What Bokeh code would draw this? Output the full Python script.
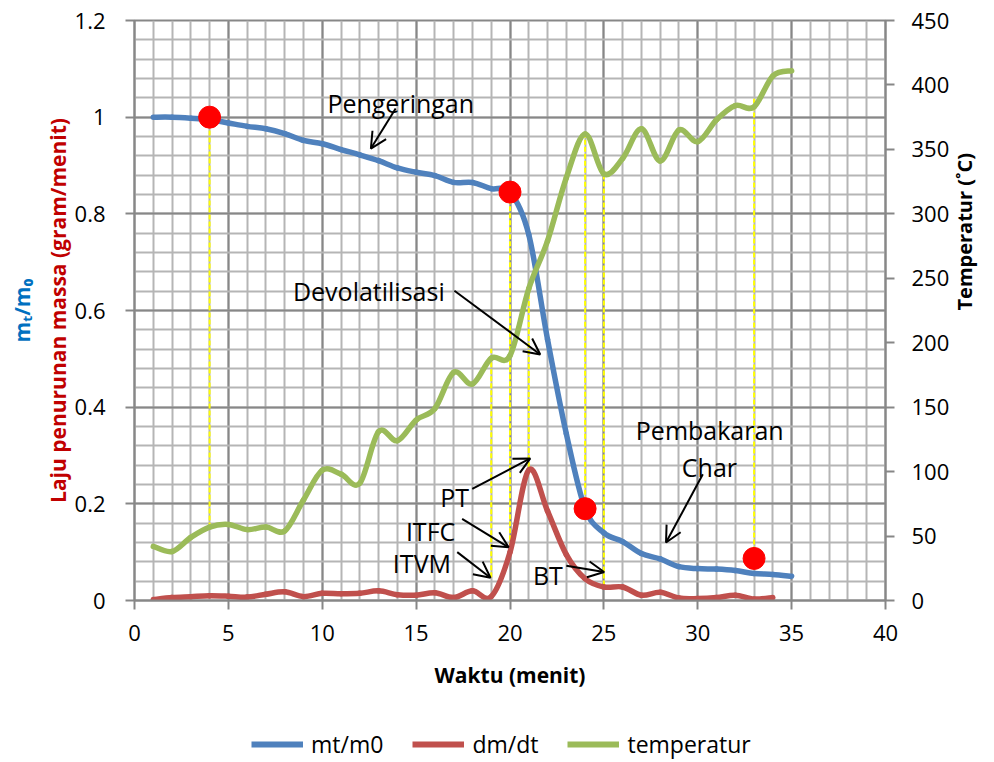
import math
from bokeh.plotting import figure
from bokeh.layouts import column
from bokeh.models import (Range1d, LinearAxis, SingleIntervalTicker, FixedTicker,
                          CustomJSTickFormatter, Arrow, OpenHead, Label, Legend,
                          LegendItem, Title)
from bokeh.embed import file_html
from bokeh.resources import INLINE

# ---------------- data ----------------
waktu = list(range(1, 36))
mt_m0 = [1.0, 1.0, 0.998, 0.995, 0.988, 0.981, 0.976, 0.966, 0.952, 0.945,
         0.933, 0.922, 0.910, 0.895, 0.886, 0.879, 0.865, 0.865, 0.852, 0.845,
         0.757, 0.540, 0.345, 0.190, 0.140, 0.122, 0.097, 0.086, 0.070, 0.066,
         0.065, 0.062, 0.056, 0.054, 0.050]

waktu_dm = list(range(1, 35))
dm_dt = [0.002, 0.006, 0.008, 0.010, 0.009, 0.007, 0.013, 0.018, 0.008, 0.015,
         0.014, 0.015, 0.020, 0.012, 0.011, 0.016, 0.006, 0.020, 0.008, 0.100,
         0.270, 0.185, 0.095, 0.045, 0.028, 0.028, 0.011, 0.017, 0.005, 0.004,
         0.006, 0.011, 0.003, 0.006]

temperatur = [42, 38, 49, 57, 59, 55, 57, 54, 78, 101,
              98, 91, 131, 124, 140, 149, 177, 168, 188, 190,
              242, 279, 328, 362, 331, 343, 366, 341, 365, 356,
              373, 384, 383, 407, 411]

# red markers (on the mt/m0 scale)
marker_t = [4, 20, 24, 33]
marker_v = [1.0, 0.845, 0.19, 0.087]

# yellow dashed guide lines (left-axis units)
drop_t = [4, 19, 20, 21, 24, 25, 33]
drop_top = [1.0, 0.521, 0.845, 0.648, 0.966, 0.879, 1.038]
drop_bottom = [0.151, 0.048, 0.110, 0.276, 0.19, 0.031, 0.087]

# annotation texts
ann_text = ["Pengeringan", "Devolatilisasi", "PT", "ITFC", "ITVM", "BT", "Pembakaran", "Char"]
ann_x = [14.18, 12.48, 17.05, 15.77, 15.31, 22.02, 30.64, 30.62]
ann_y = [1.030, 0.640, 0.214, 0.143, 0.077, 0.052, 0.352, 0.276]

# arrows
arr_x0 = [13.91, 17.04, 17.99, 17.45, 17.19, 23.00, 30.27]
arr_y0 = [1.018, 0.641, 0.231, 0.169, 0.100, 0.072, 0.261]
arr_x1 = [12.59, 21.61, 21.08, 19.93, 18.96, 25.01, 28.31]
arr_y1 = [0.935, 0.509, 0.294, 0.110, 0.047, 0.059, 0.120]

y_tick_vals = [0, 0.2, 0.4, 0.6, 0.8, 1.0, 1.2]
y_minor_vals = [round(i * 0.04, 2) for i in range(31)]

series_names = ["mt/m0", "dm/dt", "temperatur"]
x_title = "Waktu (menit)"
y_title_red = "Laju penurunan massa (gram/menit)"
y_title_blue = "m\u209c/m\u2080"
y2_title = "Temperatur (\u02daC)"

X_MAX, Y_MAX, T_MAX = 40, 1.2, 450

# ---------------- styles ----------------
FONT = "Open Sans"
BLUE, RED, GREEN = "#4F81BD", "#C0504D", "#9BBB59"
GRID_MAJOR, GRID_MINOR = "#878787", "#b5b5b5"


def smooth_segments(xs, ys):
    """Bezier control points (Catmull-Rom style, like a smoothed spreadsheet line)."""
    n = len(xs)
    out = {k: [] for k in ("x0", "y0", "x1", "y1", "cx0", "cy0", "cx1", "cy1")}
    for i in range(n - 1):
        im = max(i - 1, 0)
        ip = min(i + 2, n - 1)
        out["x0"].append(xs[i]); out["y0"].append(ys[i])
        out["x1"].append(xs[i + 1]); out["y1"].append(ys[i + 1])
        out["cx0"].append(xs[i] + (xs[i + 1] - xs[im]) / 6)
        out["cy0"].append(ys[i] + (ys[i + 1] - ys[im]) / 6)
        out["cx1"].append(xs[i + 1] - (xs[ip] - xs[i]) / 6)
        out["cy1"].append(ys[i + 1] - (ys[ip] - ys[i]) / 6)
    return out


p = figure(width=994, height=704, x_range=Range1d(0, X_MAX), y_range=Range1d(0, Y_MAX),
           output_backend="svg", toolbar_location=None,
           min_border_left=133, min_border_right=108, min_border_top=20, min_border_bottom=104)
p.extra_y_ranges = {"temp": Range1d(0, T_MAX)}
p.outline_line_color = GRID_MAJOR
p.outline_line_width = 2

p.xaxis.ticker = SingleIntervalTicker(interval=5, num_minor_ticks=5)
p.yaxis.ticker = FixedTicker(ticks=y_tick_vals, minor_ticks=y_minor_vals)
p.yaxis.formatter = CustomJSTickFormatter(code="return String(Math.round(tick*10)/10);")

for g in (p.xgrid, p.ygrid):
    g.grid_line_color = GRID_MAJOR
    g.grid_line_width = 2
    g.minor_grid_line_color = GRID_MINOR
    g.minor_grid_line_width = 2

y2 = LinearAxis(y_range_name="temp", ticker=SingleIntervalTicker(interval=50))
p.add_layout(y2, "right")

for ax in p.axis:
    ax.axis_line_color = GRID_MAJOR
    ax.axis_line_width = 2
    ax.major_tick_line_color = GRID_MAJOR
    ax.major_tick_line_width = 2
    ax.major_tick_out = 9
    ax.major_tick_in = 0
    ax.minor_tick_line_color = None
    ax.major_label_text_font = FONT
    ax.major_label_text_font_size = "22px"
    ax.major_label_text_color = "black"
    ax.axis_label_text_font = FONT
    ax.axis_label_text_font_style = "bold"
    ax.axis_label_text_color = "black"

p.xaxis.major_label_standoff = 15
p.xaxis.axis_label = x_title
p.xaxis.axis_label_text_font_size = "21px"
p.xaxis.axis_label_standoff = 17

p.yaxis[0].major_label_standoff = 20
p.yaxis[0].axis_label = y_title_red
p.yaxis[0].axis_label_text_font_size = "21px"
p.yaxis[0].axis_label_text_color = "#C00000"
p.yaxis[0].axis_label_standoff = 0

y2.major_label_standoff = 17
y2.axis_label = y2_title
y2.axis_label_text_font_size = "20px"
y2.axis_label_standoff = 12
y2.axis_label_orientation = math.pi / 2

p.add_layout(Title(text=y_title_blue, text_font=FONT, text_font_size="21px",
                   text_font_style="bold", text_color="#0070C0", align="center",
                   standoff=10), "left")

# ---------------- glyphs ----------------
p.segment(x0=drop_t, y0=drop_bottom, x1=drop_t, y1=drop_top,
          line_color="#FFFF00", line_width=2, line_dash="5 2")

sb = smooth_segments(waktu, mt_m0)
sr = smooth_segments(waktu_dm, dm_dt)
sg = smooth_segments(waktu, temperatur)
p.bezier(source=sb, x0="x0", y0="y0", x1="x1", y1="y1", cx0="cx0", cy0="cy0",
         cx1="cx1", cy1="cy1", line_color=BLUE, line_width=5.5, line_cap="round")
p.bezier(source=sr, x0="x0", y0="y0", x1="x1", y1="y1", cx0="cx0", cy0="cy0",
         cx1="cx1", cy1="cy1", line_color=RED, line_width=5.5, line_cap="round")
p.bezier(source=sg, x0="x0", y0="y0", x1="x1", y1="y1", cx0="cx0", cy0="cy0",
         cx1="cx1", cy1="cy1", line_color=GREEN, line_width=5.5, line_cap="round",
         y_range_name="temp")

p.scatter(marker_t, marker_v, size=22, color="#FF0000")

for x0, y0, x1, y1 in zip(arr_x0, arr_y0, arr_x1, arr_y1):
    p.add_layout(Arrow(x_start=x0, y_start=y0, x_end=x1, y_end=y1, line_width=2,
                       line_color="black",
                       end=OpenHead(size=16, line_width=2, line_color="black")))

for t, x, y in zip(ann_text, ann_x, ann_y):
    p.add_layout(Label(x=x, y=y, text=t, text_font=FONT, text_font_size="25px",
                       text_align="center", text_baseline="alphabetic", text_color="black"))

# ---------------- legend strip (separate small figure below the chart) ----------------
pl = figure(width=994, height=58, x_range=(0, 1), y_range=(0, 1), output_backend="svg",
            toolbar_location=None, x_axis_type=None, y_axis_type=None, min_border=0)
pl.outline_line_color = None
pl.grid.visible = False
lb = pl.line(x=[-10, -9], y=[-10, -9], line_color=BLUE, line_width=6)
lr = pl.line(x=[-10, -9], y=[-10, -9], line_color=RED, line_width=6)
lg = pl.line(x=[-10, -9], y=[-10, -9], line_color=GREEN, line_width=6)
legend = Legend(items=[LegendItem(label=series_names[0], renderers=[lb]),
                       LegendItem(label=series_names[1], renderers=[lr]),
                       LegendItem(label=series_names[2], renderers=[lg])],
                location=(117, 2), orientation="horizontal",
                label_text_font=FONT, label_text_font_size="23px", label_text_color="black",
                glyph_width=52, glyph_height=20, label_standoff=8, spacing=29,
                padding=0, margin=0, border_line_color=None, background_fill_alpha=0)
pl.add_layout(legend)

layout = column(p, pl, spacing=0)
open("out.html", "w").write(file_html(layout, INLINE))
